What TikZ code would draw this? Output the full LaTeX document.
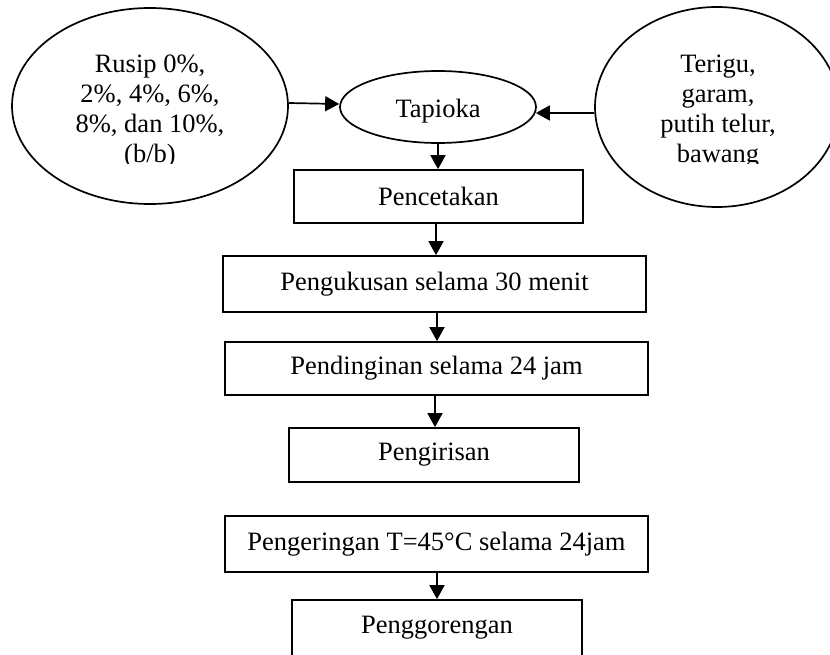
\documentclass[tikz,border=0pt]{standalone}
\usepackage{fontspec}
\setmainfont{Liberation Serif}
\usetikzlibrary{shapes.geometric,arrows.meta}
\begin{document}
\begin{tikzpicture}[x=1pt,y=-1pt,
  font=\fontsize{26.5}{30}\selectfont,
  line width=1.7pt,
  box/.style={draw,rectangle,inner sep=0pt,line width=1.7pt},
  oval/.style={draw,ellipse,inner sep=0pt,line width=1.7pt},
  lbl/.style={anchor=base,inner sep=0pt},
  arr/.style={-{Triangle[length=14pt,width=15pt]},line width=1.7pt}]
\useasboundingbox (0,0) rectangle (830,655);
\clip (0,0) rectangle (830,655);
% ellipses
\node[oval,minimum width=276pt,minimum height=196pt] (L) at (150,106) {};
\node[oval,minimum width=244pt,minimum height=200pt] (R) at (717,107) {};
\node[oval,minimum width=196pt,minimum height=72pt] (T) at (438,107) {};
\node[lbl] (tt) at (438,118) {Tapioka};
\begin{scope}
\clip (0,0) rectangle (830,164);
\node[lbl] (l1) at (150,73) {Rusip 0\%,};
\node[lbl] (l2) at (150,103) {2\%, 4\%, 6\%,};
\node[lbl] (l3) at (150,133) {8\%, dan 10\%,};
\node[lbl] (l4) at (150,163) {(b/b)};
\node[lbl] (r1) at (718,73) {Terigu,};
\node[lbl] (r2) at (718,103) {garam,};
\node[lbl] (r3) at (718,133) {putih telur,};
\node[lbl] (r4) at (718,163) {bawang};
\end{scope}
% boxes
\node[box,minimum width=289pt,minimum height=53pt] (B1) at (438.5,196.5) {Pencetakan};
\node[box,minimum width=423pt,minimum height=56pt] (B2) at (434.5,284) {Pengukusan selama 30 menit};
\node[box,minimum width=423pt,minimum height=53pt] (B3) at (436.5,368.5) {Pendinginan selama 24 jam};
\node[box,minimum width=290pt,minimum height=54pt] (B4) at (434,455) {Pengirisan};
\node[box,minimum width=423pt,minimum height=56pt] (B5) at (436.5,544) {Pengeringan T=45°C selama 24jam};
\node[box,minimum width=290pt,minimum height=56pt] (B6) at (437,628) {Penggorengan};
% arrows
\draw[arr] ([yshift=3pt]L.east) -- ([yshift=3pt]T.west);
\draw[arr] ([yshift=-6pt]R.west) -- ([yshift=-6pt,xshift=-1pt]T.east);
\draw[arr] (T.south) -- (T.south |- B1.north);
\draw[arr] (B1.south -| 436,0) -- (B2.north -| 436,0);
\draw[arr] (B2.south -| 437,0) -- (B3.north -| 437,0);
\draw[arr] (B3.south -| 435,0) -- (B4.north -| 435,0);
\draw[arr] (B5.south -| 437,0) -- (B6.north -| 437,0);
\end{tikzpicture}
\end{document}
